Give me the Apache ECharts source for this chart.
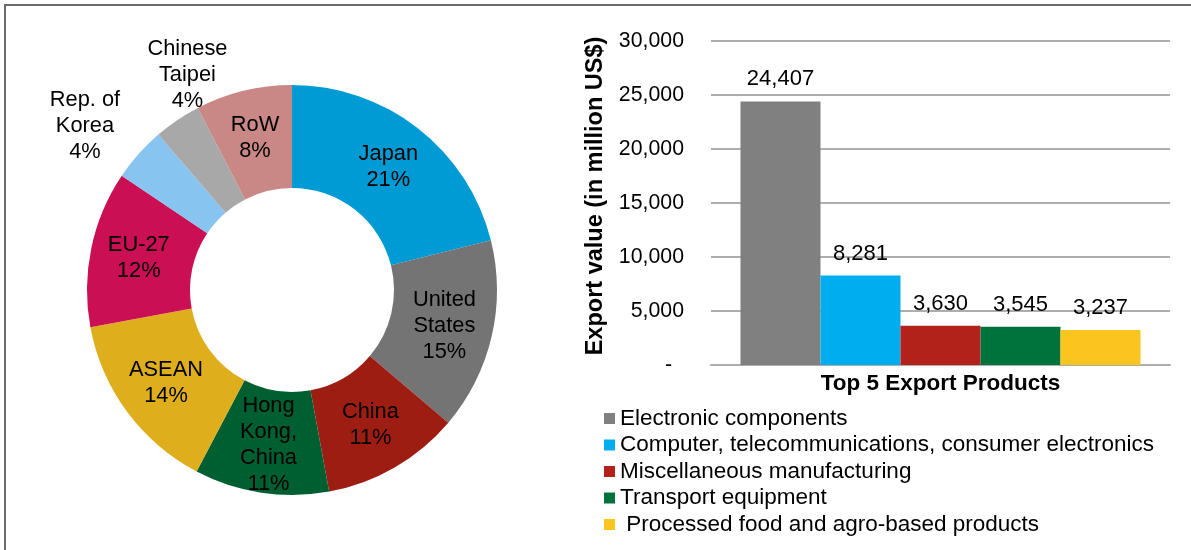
<!DOCTYPE html>
<html>
<head>
<meta charset="utf-8">
<script src="https://cdn.jsdelivr.net/npm/echarts@6/dist/echarts.min.js"></script>
<style>
  html, body { margin: 0; padding: 0; background: #ffffff; }
  #chart { width: 1191px; height: 550px; }
</style>
</head>
<body>
<div id="chart"></div>
<script>
// Export destinations (share of total exports, %)
const regions = ['Japan', 'United\nStates', 'China', 'Hong\nKong,\nChina', 'ASEAN', 'EU-27', 'Rep. of\nKorea', 'Chinese\nTaipei', 'RoW'];
const regionShares = [21.1, 15.1, 10.9, 10.6, 14.4, 12.3, 4.3, 3.7, 7.6];
const regionColors = ['#009bd5', '#747474', '#9e1d13', '#005f31', '#dfae1d', '#ca0f55', '#88c4f0', '#a8a8a8', '#c98786'];

// Top 5 export products (million US$)
const productCategory = ['Top 5 Export Products'];
const products = ['Electronic components', 'Computer, telecommunications, consumer electronics', 'Miscellaneous manufacturing', 'Transport equipment', ' Processed food and agro-based products'];
const productValues = [24407, 8281, 3630, 3545, 3237];
const productColors = ['#808080', '#00aeef', '#b2221b', '#00723b', '#fbc520'];

const FONT = 'Liberation Sans, Arial, sans-serif';
const fmt = v => Number(v).toLocaleString('en-US');

// Labels of the two thin slices sit outside the ring, without leader lines
const outsideShift = { 'Rep. of\nKorea': [-90, -60], 'Chinese\nTaipei': [-17, -85] };

const chart = echarts.init(document.getElementById('chart'), null, { renderer: 'canvas' });

chart.setOption({
  backgroundColor: '#ffffff',
  animation: false,
  textStyle: { fontFamily: FONT },
  graphic: [{
    type: 'rect',
    shape: { x: 5, y: 5, width: 1400, height: 800 },
    style: { fill: null, stroke: '#6b6b6b', lineWidth: 2 },
    silent: true
  }],
  legend: {
    orient: 'vertical',
    left: 604,
    top: 407,
    padding: 0,
    icon: 'rect',
    itemWidth: 11,
    itemHeight: 11,
    itemGap: 3.5,
    data: products,
    textStyle: { fontFamily: FONT, fontSize: 22.5, color: '#000' }
  },
  grid: { left: 711, right: 21, top: 41, bottom: 185, containLabel: false },
  xAxis: {
    type: 'category',
    data: productCategory,
    axisLine: { show: true, lineStyle: { color: '#adadad', width: 2 } },
    axisTick: { show: false },
    axisLabel: { margin: 7, fontFamily: FONT, fontSize: 22.5, fontWeight: 'bold', color: '#000' }
  },
  yAxis: {
    type: 'value',
    min: 0,
    max: 30000,
    interval: 5000,
    name: 'Export value (in million US$)',
    nameLocation: 'middle',
    nameGap: 103,
    nameTextStyle: { fontFamily: FONT, fontSize: 23.5, fontWeight: 'bold', color: '#000', padding: [0, 0, 0, 14] },
    axisLine: { show: false },
    axisTick: { show: false },
    splitLine: { lineStyle: { color: '#adadad', width: 2 } },
    axisLabel: {
      margin: 27,
      fontFamily: FONT, fontSize: 21.3, color: '#000',
      formatter: v => (v === 0 ? '-  ' : fmt(v))
    }
  },
  series: [
    ...products.map((name, i) => ({
      type: 'bar',
      name: name,
      data: [productValues[i]],
      barWidth: 80,
      barGap: '0%',
      itemStyle: { color: productColors[i] },
      label: {
        show: true,
        position: 'top',
        distance: 11,
        fontFamily: FONT, fontSize: 22, color: '#000',
        formatter: p => fmt(p.value)
      }
    })),
    {
      type: 'pie',
      name: 'Destinations',
      center: [292, 290],
      radius: [102, 205],
      startAngle: 90,
      clockwise: true,
      avoidLabelOverlap: false,
      label: {
        show: true,
        position: 'inside',
        fontFamily: FONT, fontSize: 21.8, lineHeight: 26, color: '#000',
        formatter: p => p.name + '\n' + Math.round(p.percent) + '%'
      },
      labelLine: { show: false },
      labelLayout: p => {
        const s = outsideShift[regions[p.dataIndex]];
        return s ? { dx: s[0], dy: s[1] } : {};
      },
      emphasis: { disabled: true },
      itemStyle: { borderWidth: 0 },
      data: regions.map((name, i) => ({ name: name, value: regionShares[i], itemStyle: { color: regionColors[i] } }))
    }
  ]
});
</script>
</body>
</html>
